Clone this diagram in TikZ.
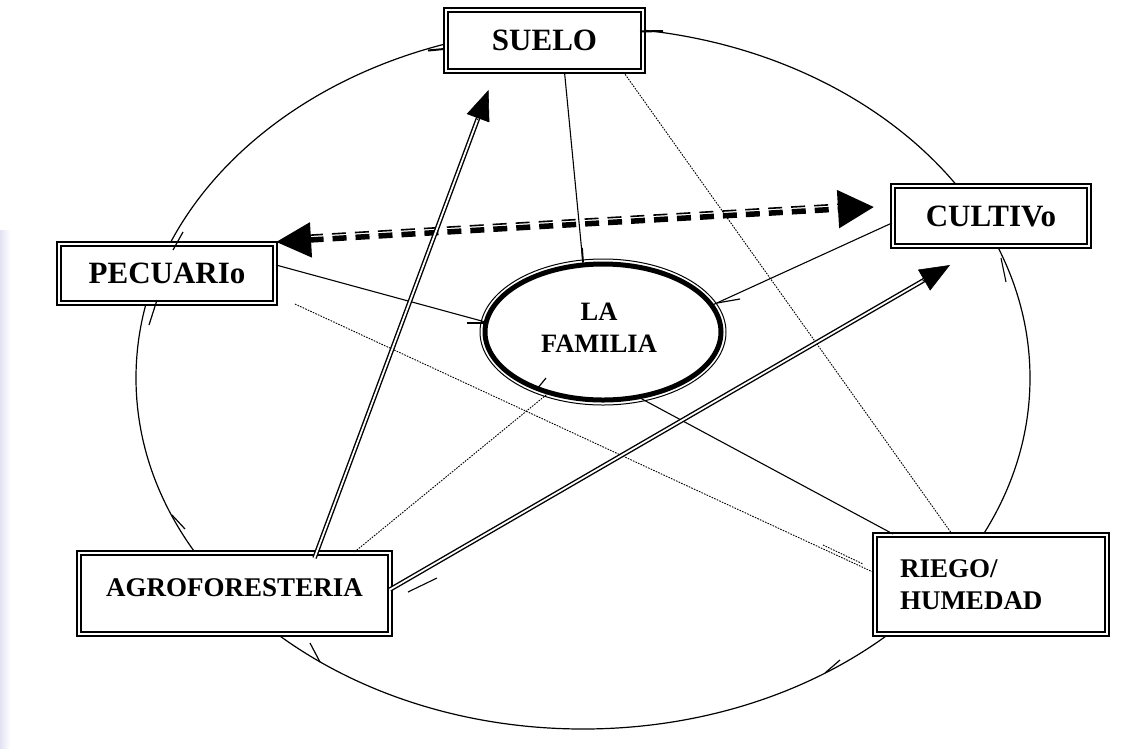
\documentclass[tikz,border=0pt]{standalone}
\usepackage{fontspec}
\setmainfont{Liberation Serif}
\usetikzlibrary{calc,arrows.meta,shapes.geometric}
\definecolor{lav}{RGB}{226,226,244}
\begin{document}
\begin{tikzpicture}[x=1pt,y=-1pt,
  boxst/.style={draw, fill=white, line width=2.1pt, double=white, double distance=2pt, inner sep=0pt},
  fs/.style={font=\bfseries\fontsize{#1}{32pt}\selectfont},
  thinln/.style={line width=1.1pt},
  dotln/.style={line width=0.9pt, dash pattern=on 1.6pt off 1.2pt},
  dbl/.style={line width=1.4pt, double=white, double distance=1.8pt},
  tickst/.style={line width=1.2pt},
  bigdash/.style={dash pattern=on 14pt off 9pt}
]
\fill[white] (0,0) rectangle (1135,748);
\useasboundingbox (0,0) rectangle (1135,748);
\shade[left color=lav, right color=white] (0,230) rectangle (10,748);

% outer ring
\draw[line width=1.2pt] (583,378) ellipse [x radius=447pt, y radius=351pt];

% boxes
\node[boxst, fs=31, minimum width=197pt, minimum height=61pt] (suelo) at (544.5,40.5) {SUELO};
\node[boxst, fs=31, minimum width=196pt, minimum height=60pt] (cultivo) at (991,216) {CULTIVo};
\node[boxst, fs=31, minimum width=216pt, minimum height=59pt] (pecuario) at (167,273.5) {PECUARIo};
\node[boxst, fs=27, minimum width=311pt, minimum height=81pt, text height=17pt, text depth=11pt] (agro) at (234.5,593.5) {AGROFORESTERIA};
\node[boxst, fs=27, minimum width=232pt, minimum height=99pt, text width=182pt, align=left] (riego) at (991,584.5) {RIEGO/\\HUMEDAD};

% family ellipse
\node[ellipse, draw, fill=white, line width=5pt, minimum width=236pt, minimum height=136pt, inner sep=0pt] (fam) at (603,332) {};
\draw[line width=1pt] (fam.center) ellipse [x radius=123pt, y radius=73pt];
\node[fs=26.5, align=center] (famtxt) at (599,328) {LA\\FAMILIA};

% connectors
\draw[thinln] ($(suelo.south)+(20,0)$) -- ($(fam.north)+(-20,2)$);
\draw[dotln] ($(suelo.south)+(79,0)$) -- ($(riego.north)+(-39,0)$);
\draw[thinln] ($(cultivo.west)+(0,7)$) -- (fam.14);
\draw[thinln] ($(pecuario.east)+(0,-8.5)$) -- (fam.175);
\draw[dotln] ($(pecuario.south east)+(19,0)$) -- ($(riego.west)+(0,-12)$);
\draw[thinln] (fam.-60) -- ($(riego.north west)+(19,0)$);
\draw[dotln] ($(agro.north)+(120,0)$) -- (fam.228);

% dashed double arrow
\coordinate (pT) at ($(pecuario.north east)+(0,-1)$);
\coordinate (cT) at ($(cultivo.west)+(-18,-9)$);
\draw[line width=5.5pt, bigdash, {Triangle[length=35pt,width=34pt]}-{Triangle[length=36pt,width=37pt]}] (pT) -- (cT);
\draw[line width=1.6pt, bigdash, transform canvas={yshift=4.8pt}, shorten <=33pt, shorten >=34pt] (pT) -- (cT);

% double arrows from agroforesteria
\coordinate (sTip) at ($(suelo.south)+(-56,18)$);
\coordinate (aTop) at ($(agro.north)+(80,6)$);
\draw[dbl] (aTop) -- ($(sTip)!26pt!(aTop)$);
\draw[line width=0.6pt, -{Triangle[length=30pt,width=24pt]}] ($(sTip)!32pt!(aTop)$) -- (sTip);
\coordinate (cTip) at ($(cultivo.south)+(-41,18)$);
\coordinate (aRt) at ($(agro.east)+(-1,-4)$);
\draw[dbl] (aRt) -- ($(cTip)!26pt!(aRt)$);
\draw[line width=0.6pt, -{Triangle[length=30pt,width=24pt]}] ($(cTip)!32pt!(aRt)$) -- (cTip);

% small ticks
\draw[tickst] (467,323) -- (484,323);
\draw[tickst] (717,303) -- (740,299);
\draw[line width=1.8pt] (582,248) -- (583,262);
\draw[tickst] (537,389) -- (546,378);
\draw[tickst] (157,300) -- (149,325);
\draw[tickst] (172,515) -- (185,529);
\draw[tickst] (310,643) -- (320,662);
\draw[tickst] (840,660) -- (825,673);
\draw[tickst] (173,250) -- (183,232);
\draw[line width=2pt] (428,50.5) -- (444,49);
\draw[line width=2pt] (640,31.5) -- (663,31);
\draw[dotln] (823,545) -- (863,564);
\draw[thinln] (408,592) -- (437,578);
\draw[thinln] (1001,258) -- (1006,282);
\end{tikzpicture}
\end{document}
